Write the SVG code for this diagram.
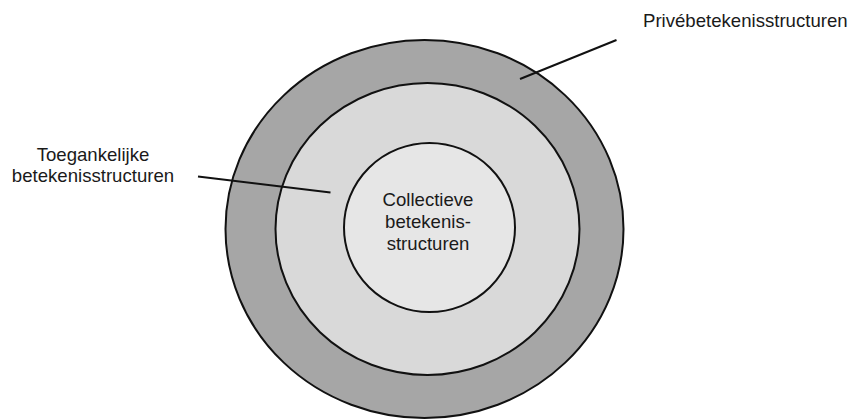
<svg xmlns="http://www.w3.org/2000/svg" width="853" height="420" viewBox="0 0 853 420">
<style>
.ring{stroke:#111;stroke-width:2}
.lbl{font-family:"Liberation Sans",Arial,sans-serif;font-size:18.6px;fill:#1a1a1a}
.conn{stroke:#111;stroke-width:2;fill:none}
</style>
<rect width="853" height="420" fill="#fff"/>
<g id="prive">
<ellipse class="ring" cx="424.5" cy="229" rx="199" ry="189" fill="#a6a6a6"/>
</g>
<g id="toegankelijk">
<ellipse class="ring" cx="427.5" cy="229" rx="152" ry="146" fill="#d9d9d9"/>
</g>
<g id="collectief">
<ellipse class="ring" cx="429.5" cy="227.5" rx="85.5" ry="84.5" fill="#e6e6e6"/>
<text class="lbl" text-anchor="middle" x="428" y="206">Collectieve</text>
<text class="lbl" text-anchor="middle" x="428" y="228">betekenis-</text>
<text class="lbl" text-anchor="middle" x="428" y="250">structuren</text>
</g>
<g id="connectors">
<line class="conn" x1="198" y1="176.5" x2="330.5" y2="192.5"/>
<line class="conn" x1="520" y1="79" x2="616.5" y2="40"/>
</g>
<g id="labels">
<text class="lbl" x="643" y="27">Privébetekenisstructuren</text>
<text class="lbl" text-anchor="middle" x="93" y="161">Toegankelijke</text>
<text class="lbl" text-anchor="middle" x="93" y="182">betekenisstructuren</text>
</g>
</svg>
